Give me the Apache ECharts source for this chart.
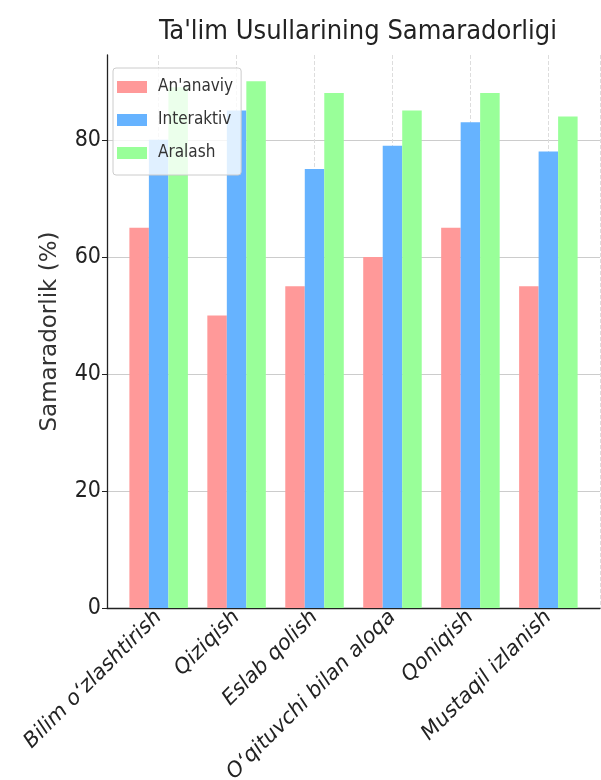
<!DOCTYPE html>
<html>
<head>
<meta charset="utf-8">
<script src="https://cdn.jsdelivr.net/npm/echarts@6/dist/echarts.min.js"></script>
<style>
  html, body { margin: 0; padding: 0; background: #fff; }
  #chart { width: 601px; height: 780px; }
</style>
</head>
<body>
<div id="chart"></div>
<script>
const categories = ["Bilim o\u2018zlashtirish", "Qiziqish", "Eslab qolish", "O\u2018qituvchi bilan aloqa", "Qoniqish", "Mustaqil izlanish"];
const seriesNames = ["An'anaviy", "Interaktiv", "Aralash"];
const ananaviy = [65, 50, 55, 60, 65, 55];
const interaktiv = [80, 85, 75, 79, 83, 78];
const aralash = [89, 90, 88, 85, 88, 84];
const colors = ['#ff9999', '#66b3ff', '#99ff99'];
const yTicks = [0, 20, 40, 60, 80];

const narrow = "'Liberation Sans Narrow', 'DejaVu Sans Condensed', sans-serif";
const valuesList = [ananaviy, interaktiv, aralash];

const chart = echarts.init(document.getElementById('chart'));
const option = {
  animation: false,
  backgroundColor: '#fff',
  title: {
    text: "Ta'lim Usullarining Samaradorligi",
    left: 353,
    top: 13,
    textAlign: 'center',
    textStyle: { fontFamily: narrow, fontSize: 27, fontWeight: 'normal', color: '#222' }
  },
  legend: {
    data: seriesNames,
    orient: 'vertical',
    left: 113,
    top: 68,
    itemWidth: 30,
    itemHeight: 12,
    itemGap: 13,
    padding: [9, 8, 12, 4],
    backgroundColor: 'rgba(255,255,255,0.8)',
    borderColor: '#ccc',
    borderWidth: 1,
    borderRadius: 3,
    icon: 'rect',
    textStyle: { fontFamily: narrow, fontSize: 17, color: '#333', padding: [0, 0, 0, 6], lineHeight: 20 },
    z: 10
  },
  grid: { left: 107, right: 1, top: 55, bottom: 172, containLabel: false, outerBoundsMode: 'none' },
  xAxis: {
    type: 'value',
    min: -0.6625,
    max: 5.6625,
    minInterval: 1,
    maxInterval: 1,
    splitNumber: 6,
    axisLine: { show: true, onZero: false, lineStyle: { color: '#222', width: 1.3 } },
    axisTick: { show: true, inside: true, length: 5, lineStyle: { color: '#222' } },
    splitLine: { show: true, lineStyle: { color: '#ddd', type: 'dashed', width: 1 } },
    axisLabel: {
      rotate: 45,
      margin: 6,
      showMinLabel: false,
      showMaxLabel: false,
      fontFamily: 'DejaVu Sans',
      fontStyle: 'italic',
      fontSize: 21,
      color: '#222',
      formatter: function (v) {
        const r = Math.round(v);
        if (Math.abs(v - r) < 1e-6 && r >= 0 && r < categories.length) return categories[r];
        return '';
      }
    }
  },
  yAxis: {
    type: 'value',
    min: 0,
    max: 94.5,
    interval: 20,
    name: 'Samaradorlik (%)',
    nameLocation: 'middle',
    nameGap: 45,
    nameTextStyle: { fontFamily: 'DejaVu Sans', fontSize: 23, color: '#333' },
    axisLine: { show: true, onZero: false, lineStyle: { color: '#222', width: 1.3 } },
    axisTick: { show: true, inside: false, length: 5, lineStyle: { color: '#222' } },
    splitLine: { show: true, lineStyle: { color: ['#ccc', '#ccc', '#ccc', '#ccc', '#ccc', 'rgba(0,0,0,0)'], width: 1 } },
    axisLabel: {
      showMaxLabel: false,
      margin: 6,
      fontFamily: narrow,
      fontSize: 23,
      color: '#222',
      formatter: function (v) { return yTicks.indexOf(v) >= 0 ? String(v) : ''; }
    }
  },
  series: seriesNames.map(function (name, k) {
    return {
      name: name,
      type: 'bar',
      barWidth: 19.5,
      barGap: '0%',
      itemStyle: { color: colors[k] },
      data: valuesList[k].map(function (v, i) { return [i, v]; }),
      z: 2
    };
  })
};
chart.setOption(option);
</script>
</body>
</html>
